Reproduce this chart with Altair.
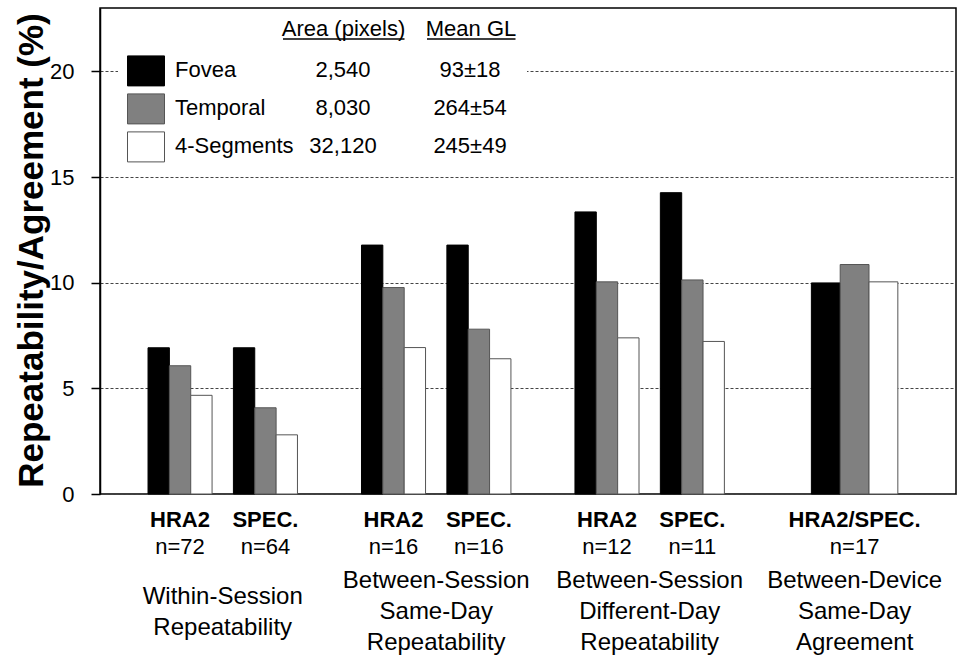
import altair as alt
import pandas as pd

# ---- data -------------------------------------------------------------
series = ["Fovea", "Temporal", "4-Segments"]
area_pixels = ["2,540", "8,030", "32,120"]
mean_gl = ["93±18", "264±54", "245±49"]

devices = ["HRA2", "SPEC.", "HRA2", "SPEC.", "HRA2", "SPEC.", "HRA2/SPEC."]
n_labels = ["n=72", "n=64", "n=16", "n=16", "n=12", "n=11", "n=17"]
conditions = [
    "Within-Session\nRepeatability",
    "Between-Session\nSame-Day\nRepeatability",
    "Between-Session\nDifferent-Day\nRepeatability",
    "Between-Device\nSame-Day\nAgreement",
]
condition_of_cluster = [0, 0, 1, 1, 2, 2, 3]

fovea = [6.92, 6.92, 11.78, 11.78, 13.35, 14.26, 9.99]
temporal = [6.07, 4.08, 9.77, 7.80, 10.04, 10.13, 10.86]
segments = [4.67, 2.80, 6.93, 6.40, 7.39, 7.22, 10.04]

# ---- layout (x in bar-width units) -------------------------------------
CENTERS = [3.75, 7.75, 13.75, 17.75, 23.75, 27.75, 35.35]
WIDTHS = [1, 1, 1, 1, 1, 1, 1.35]
X_DOMAIN = [0, 40.1]
W, H = 856, 486
FONT = "Liberation Sans"
LINE_H = 31
MID_BASELINE = 611  # captions are centred vertically on this baseline

fills = ["#000000", "#808080", "#ffffff"]
strokes = ["#000000", "#555555", "#555555"]

rows = []
for c, (cx, w) in enumerate(zip(CENTERS, WIDTHS)):
    for s, vals in enumerate([fovea, temporal, segments]):
        x0 = cx - 1.5 * w + s * w
        rows.append({"series": series[s], "order": s, "x0": x0, "x1": x0 + w,
                     "value": vals[c]})
bars_df = pd.DataFrame(rows)

clusters_df = pd.DataFrame({"cx": CENTERS, "device": devices, "n": n_labels})

cond_centers = []
for k in range(len(conditions)):
    idx = [i for i, g in enumerate(condition_of_cluster) if g == k]
    cond_centers.append(sum(CENTERS[i] for i in idx) / len(idx))
cond_df = pd.DataFrame({
    "cx": cond_centers,
    "label": conditions,
    "nlines": [c.count("\n") + 1 for c in conditions],
})

xs = alt.Scale(domain=X_DOMAIN, nice=False, zero=False)
ys = alt.Scale(domain=[0, 23], nice=False)
fill_scale = alt.Scale(domain=series, range=fills)
stroke_scale = alt.Scale(domain=series, range=strokes)

bars = alt.Chart(bars_df).mark_rect(strokeWidth=1).encode(
    x=alt.X("x0:Q", scale=xs, axis=None),
    x2="x1:Q",
    y=alt.Y("value:Q", scale=ys, axis=alt.Axis(
        values=[0, 5, 10, 15, 20],
        title="Repeatability/Agreement (%)",
        titleFont=FONT, titleFontSize=35, titleFontWeight="bold",
        titleColor="black", titleAngle=270, titleAlign="center",
        titleBaseline="alphabetic", titleX=-58, titleY=242,
        labelFont=FONT, labelFontSize=22, labelColor="black",
        labelPadding=17, tickSize=9, tickColor="black", tickWidth=1.5,
        domainColor="black", domainWidth=1.5,
        grid=True, gridDash=[3, 2], gridColor="#444444", gridWidth=1,
    )),
    y2=alt.datum(0),
    fill=alt.Fill("series:N", scale=fill_scale, legend=None),
    stroke=alt.Stroke("series:N", scale=stroke_scale, legend=None),
)

device_text = alt.Chart(clusters_df).mark_text(
    font=FONT, fontSize=22, fontWeight="bold", color="black",
    align="center", baseline="alphabetic",
).encode(x=alt.X("cx:Q", scale=xs, axis=None), y=alt.value(519), text="device:N")

n_text = alt.Chart(clusters_df).mark_text(
    font=FONT, fontSize=22, color="black", align="center", baseline="alphabetic",
).encode(x=alt.X("cx:Q", scale=xs, axis=None), y=alt.value(546), text="n:N")


def caption_layer(nlines):
    # first baseline shifts up with the line count so captions share a centre
    first = MID_BASELINE - (nlines - 1) * LINE_H / 2
    return alt.Chart(cond_df).transform_filter(
        alt.datum.nlines == nlines
    ).mark_text(
        font=FONT, fontSize=24, color="black", align="center",
        baseline="alphabetic", lineBreak="\n", lineHeight=LINE_H,
    ).encode(x=alt.X("cx:Q", scale=xs, axis=None), y=alt.value(first), text="label:N")


plot = alt.layer(bars, device_text, n_text, caption_layer(2), caption_layer(3))

# ---- in-plot key table (pixel positions, no scales) ---------------------
ROW0, PITCH = 62.9, 38
key_df = pd.DataFrame({
    "series": series,
    "area": area_pixels,
    "gl": mean_gl,
    "sx0": [27.5] * 3, "sx1": [64.5] * 3,
    "sy0": [ROW0 - 15 + PITCH * i for i in range(3)],
    "sy1": [ROW0 + 15 + PITCH * i for i in range(3)],
    "ty": [ROW0 + 6 + PITCH * i for i in range(3)],
    "nx": [75] * 3, "ax": [243] * 3, "gx": [370] * 3,
})
head_df = pd.DataFrame({
    "label": ["Area (pixels)", "Mean GL"],
    "hx": [243.5, 371], "hy": [27.7, 27.7],
    "ux0": [183, 327], "ux1": [304.5, 415.5], "uy": [31, 31],
})

bg = alt.Chart(pd.DataFrame({"a": [0]})).mark_rect(fill="white").encode(
    x=alt.value(18), x2=alt.value(427), y=alt.value(2), y2=alt.value(166))

swatch = alt.Chart(key_df).mark_rect(strokeWidth=1).encode(
    x=alt.X("sx0:Q", scale=None, axis=None), x2="sx1:Q",
    y=alt.Y("sy0:Q", scale=None, axis=None), y2="sy1:Q",
    fill=alt.Fill("series:N", scale=fill_scale, legend=None),
    stroke=alt.Stroke("series:N", scale=stroke_scale, legend=None),
)


def key_text(field, xfield, align):
    return alt.Chart(key_df).mark_text(
        font=FONT, fontSize=22, color="black", align=align, baseline="alphabetic",
    ).encode(
        x=alt.X(f"{xfield}:Q", scale=None, axis=None),
        y=alt.Y("ty:Q", scale=None, axis=None),
        text=f"{field}:N",
    )


heads = alt.Chart(head_df).mark_text(
    font=FONT, fontSize=22, color="black", align="center", baseline="alphabetic",
).encode(
    x=alt.X("hx:Q", scale=None, axis=None),
    y=alt.Y("hy:Q", scale=None, axis=None),
    text="label:N",
)
underline = alt.Chart(head_df).mark_rule(color="black", strokeWidth=1.3).encode(
    x=alt.X("ux0:Q", scale=None, axis=None), x2="ux1:Q",
    y=alt.Y("uy:Q", scale=None, axis=None),
)

key = alt.layer(bg, swatch, key_text("series", "nx", "left"),
                key_text("area", "ax", "center"), key_text("gl", "gx", "center"),
                heads, underline)

chart = alt.layer(plot, key).resolve_scale(
    x="independent", y="independent", fill="independent", stroke="independent",
).properties(
    width=W, height=H,
    autosize=alt.AutoSizeParams(type="none"),
    padding={"left": 100, "top": 8, "right": 1, "bottom": 162},
    background="white",
).configure_view(stroke="black", strokeWidth=1.5)

chart.save("out.html", embed_options={"renderer": "svg", "actions": False})
